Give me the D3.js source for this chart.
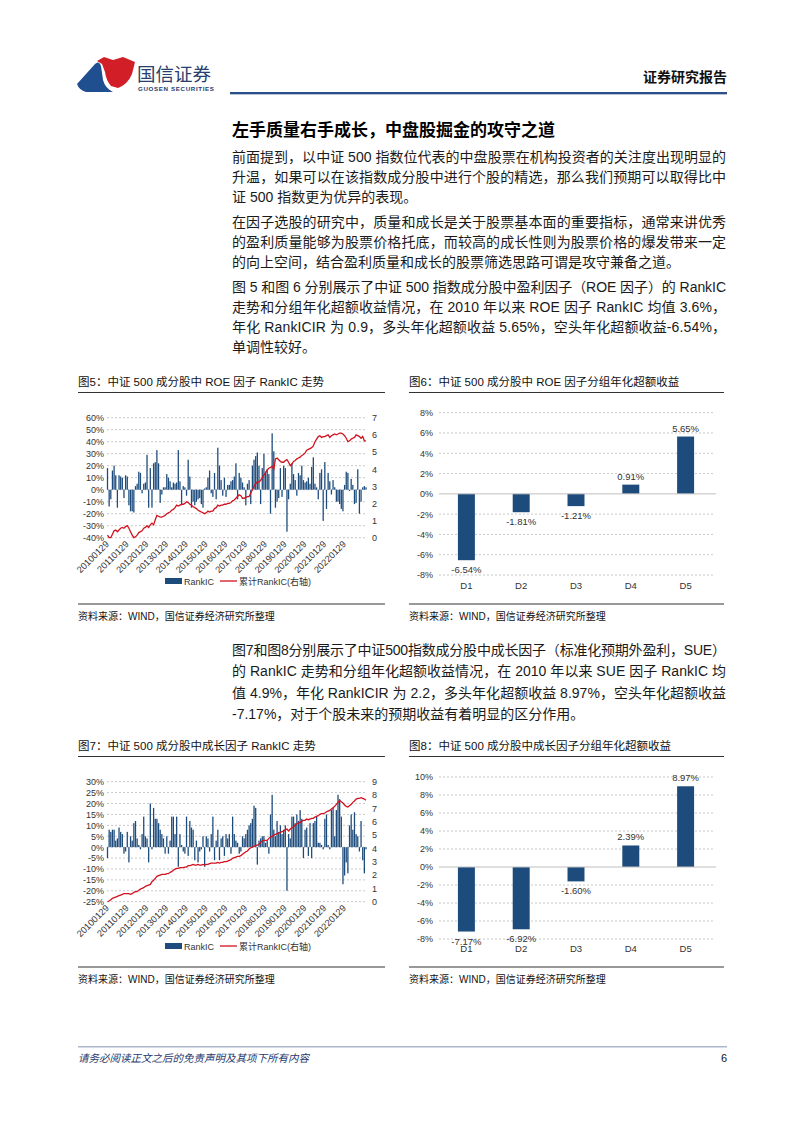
<!DOCTYPE html>
<html>
<head>
<meta charset="utf-8">
<script src="https://cdn.jsdelivr.net/npm/d3@7"></script>
<style>
  body { margin: 0; background: #fff; }
  svg { display: block; font-family: "Liberation Sans", "Noto Sans CJK SC", sans-serif; }
</style>
</head>
<body>
<svg id="page" width="802" height="1133"></svg>
<script>
// ---- data ----
var xTickLabels = ["20100129", "20110129", "20120129", "20130129", "20140129", "20150129", "20160129",
  "20170129", "20180129", "20190129", "20200129", "20210129", "20220129"];

// fig5: ROE factor monthly RankIC (%)
var roeRankIC = [
  18, -14, -8, 16, 20, 12, -15, 12, 11, 10, -7, 12,
  11, -13, -18, -18, -19, 3, 5, 15, 14, -3, 5, 6,
  29, -15, 18, -15, 22, 23, 33, 22, -11, -4, 2, 2,
  13, 10, 7, 2, 6, 5, 6, 33, 7, -13, 3, 2,
  -5, 25, 11, -15, -10, -13, -10, -8, -7, -12, -15, 1,
  2, 10, 16, -3, -6, 14, -8, 35, 20, 8, -5, 10,
  -6, 4, 4, 7, 8, 11, 22, -8, 14, 10, 6, 2,
  -13, 5, 8, -12, 20, 25, 28, 31, 20, -12, 18, 30,
  15, 17, 13, -20, 47, 32, -15, -10, -7, 18, -6, 20,
  18, -35, -8, 5, 22, 13, 8, -5, 14, 12, 20, 8,
  6, 7, 10, 5, 19, 27, 5, 2, -8, 14, 17, -26,
  23, -16, 14, 7, -4, 8, 2, -10, -10, -12, -16, -18,
  4, 15, 14, -1, 9, 4, -12, -11, 17, -20, -10, 2,
  3, 2
];
// fig5: cumulative RankIC (right axis)
var roeCum = [
  0.15, 0.0, 0.0, 0.2, 0.4, 0.45, 0.35, 0.45, 0.55, 0.6, 0.55, 0.65,
  0.7, 0.55, 0.35, 0.15, 0.0, 0.05, 0.15, 0.3, 0.35, 0.4, 0.55, 0.6,
  0.7, 0.6, 0.75, 0.85, 0.75, 1.05, 1.3, 1.25, 1.2, 1.2, 1.25, 1.3,
  1.4, 1.45, 1.5, 1.6, 1.65, 1.75, 1.9, 1.85, 1.9, 1.95, 1.95, 2.0,
  2.1, 2.05, 1.95, 1.9, 1.8, 1.75, 1.7, 1.6, 1.55, 1.5, 1.45, 1.4,
  1.45, 1.55, 1.5, 1.55, 1.55, 1.7, 1.75, 1.9, 1.85, 1.9, 1.9, 1.95,
  1.95, 2.0, 2.0, 2.05, 2.15, 2.2, 2.3, 2.4, 2.5, 2.45, 2.3, 2.3,
  2.35, 2.4, 2.4, 2.6, 2.8, 3.0, 3.15, 3.25, 3.25, 3.35, 3.5, 3.65,
  3.8, 3.95, 4.05, 4.1, 4.15, 4.0, 4.6, 4.65, 4.55, 4.45, 4.4, 4.4,
  4.5, 4.55, 4.4, 4.2, 4.3, 4.45, 4.5, 4.6, 4.65, 4.7, 4.8, 4.85,
  4.95, 5.1, 5.15, 5.2, 5.25, 5.35, 5.6, 5.75, 5.9, 5.95, 5.85, 5.9,
  5.9, 5.95, 6.0, 5.85, 5.95, 6.0, 6.05, 6.0, 6.05, 6.1, 6.1, 6.05,
  5.95, 5.8, 5.6, 5.65, 5.75, 5.8, 5.85, 6.0, 5.95, 5.9, 5.8, 5.9,
  5.65, 5.65
];

// fig7: growth (SUE) factor monthly RankIC (%)
var sueRankIC = [
  -5, 8, 7, 8, 8, 3, 4, 9, 7, 6, -3, -2,
  7, -7, 5, 3, 11, 12, 4, 1, -1, 6, 14, 5,
  4, -7, 20, -1, 18, 13, 13, 11, 8, 6, 4, -3,
  5, -3, 3, 14, 14, 6, 14, -9, 6, 1, -2, -3,
  14, -4, 12, 9, 8, -6, 3, -7, -2, -1, 5, -9,
  5, 4, -2, 6, 14, -6, 3, 8, -6, 4, 5, -4,
  6, 4, 6, -3, 14, 6, 3, 2, -3, -2, 5, 4,
  6, 8, 10, 11, 13, 19, 18, -8, 3, 4, 5, 5,
  2, 3, -3, 15, 24, 8, 5, 12, 7, 10, 6, 8,
  10, -20, 6, 4, 14, 14, 11, 15, 12, 17, 13, -5,
  8, 9, -4, 11, -5, 11, 12, 14, 2, 2, 1, -1,
  13, 15, 1, -1, 17, 18, 5, 17, 24, 22, 14, -17,
  -13, -7, -12, 10, 15, 8, 16, 6, 5, -2, 12, -6,
  -12, -1
];
var sueCum = [
  0, 0.05, 0.15, 0.25, 0.3, 0.35, 0.4, 0.45, 0.5, 0.55, 0.6, 0.6,
  0.6, 0.6, 0.55, 0.6, 0.7, 0.75, 0.75, 0.85, 0.95, 1.0, 1.05, 1.15,
  1.2, 1.25, 1.3, 1.5, 1.6, 1.75, 1.9, 1.95, 2.0, 2.05, 2.05, 2.05,
  2.1, 2.1, 2.2, 2.25, 2.35, 2.45, 2.5, 2.5, 2.55, 2.55, 2.55, 2.6,
  2.6, 2.7, 2.7, 2.75, 2.8, 2.75, 2.75, 2.8, 2.75, 2.75, 2.8, 2.75,
  2.8, 2.8, 2.85, 2.9, 2.9, 2.9, 2.9, 2.95, 2.9, 2.95, 2.95, 3.0,
  3.0, 3.05, 3.1, 3.15, 3.25, 3.3, 3.35, 3.4, 3.4, 3.45, 3.55, 3.65,
  3.75, 3.8, 3.95, 4.05, 4.1, 4.15, 4.2, 4.25, 4.3, 4.45, 4.55, 4.6,
  4.6, 4.6, 4.75, 4.85, 4.9, 5.0, 5.05, 5.1, 5.15, 5.2, 5.25, 5.3,
  5.4, 5.45, 5.3, 5.45, 5.55, 5.6, 5.75, 5.85, 5.9, 5.95, 6.05, 6.1,
  6.1, 6.2, 6.15, 6.2, 6.25, 6.25, 6.35, 6.4, 6.45, 6.55, 6.6, 6.6,
  6.65, 6.75, 6.8, 6.85, 6.95, 7.05, 7.15, 7.3, 7.45, 7.6, 7.5, 7.4,
  7.25, 7.15, 7.1, 7.2, 7.3, 7.45, 7.55, 7.7, 7.75, 7.75, 7.8, 7.75,
  7.7, 7.6
];

// quintile groups
var groups = ["D1", "D2", "D3", "D4", "D5"];
var roeGroupRet = [-6.54, -1.81, -1.21, 0.91, 5.65];
var sueGroupRet = [-7.17, -6.92, -1.60, 2.39, 8.97];

// ---- page ----
var BLUE = "#1d4c7c", RED = "#d2121f", GRID = "#c8c8c8", TXT = "#333";
var svg = d3.select("#page");

function pct(v) { return d3.format(".0%")(v).replace("\u2212", "-"); }

// header
var logo = svg.append("g");
logo.append("path").attr("d", "M77,84 L95,64 Q99,60 101,66 L103,80 Q105,88 113,92 L86,92 Q79,90 77,84 Z").attr("fill", "#1f4f8f");
logo.append("path").attr("d", "M97,61 L104,57 L113,60 L123,57 L135,62 L132,74 Q128,84 118,88 L111,86 Q106,80 105,72 L102,64 Z").attr("fill", "#d21f27");
svg.append("text").attr("x", 137).attr("y", 81).attr("font-size", 18.5).attr("fill", "#27406e")
  .attr("font-family", "Noto Sans CJK SC").text("国信证券");
svg.append("text").attr("x", 138).attr("y", 91).attr("font-size", 6.2).attr("fill", "#27406e")
  .attr("font-weight", "bold").attr("textLength", 76).text("GUOSEN SECURITIES");
svg.append("text").attr("x", 727).attr("y", 82).attr("text-anchor", "end").attr("font-size", 14)
  .attr("font-weight", "bold").attr("fill", "#111").text("证券研究报告");
svg.append("rect").attr("x", 230).attr("y", 92).attr("width", 497).attr("height", 2).attr("fill", "#2b4f8a");
svg.append("rect").attr("x", 230).attr("y", 94).attr("width", 497).attr("height", 1).attr("fill", "#b8c4d4");

// text block
svg.append("text").attr("x", 232).attr("y", 136).attr("font-size", 17).attr("font-weight", "bold")
  .attr("fill", "#000").text("左手质量右手成长，中盘股掘金的攻守之道");

var paras = [
  { y: 162, step: 20, lines: ["前面提到，以中证 500 指数位代表的中盘股票在机构投资者的关注度出现明显的",
    "升温，如果可以在该指数成分股中进行个股的精选，那么我们预期可以取得比中",
    "证 500 指数更为优异的表现。"] },
  { y: 227, step: 20, lines: ["在因子选股的研究中，质量和成长是关于股票基本面的重要指标，通常来讲优秀",
    "的盈利质量能够为股票价格托底，而较高的成长性则为股票价格的爆发带来一定",
    "的向上空间，结合盈利质量和成长的股票筛选思路可谓是攻守兼备之道。"] },
  { y: 292, step: 20, lines: ["图 5 和图 6 分别展示了中证 500 指数成分股中盈利因子（ROE 因子）的 RankIC",
    "走势和分组年化超额收益情况，在 2010 年以来 ROE 因子 RankIC 均值 3.6%，",
    "年化 RankICIR 为 0.9，多头年化超额收益 5.65%，空头年化超额收益-6.54%，",
    "单调性较好。"] },
  { y: 655, step: 21.3, lines: ["图7和图8分别展示了中证500指数成分股中成长因子（标准化预期外盈利，SUE）",
    "的 RankIC 走势和分组年化超额收益情况，在 2010 年以来 SUE 因子 RankIC 均",
    "值 4.9%，年化 RankICIR 为 2.2，多头年化超额收益 8.97%，空头年化超额收益",
    "-7.17%，对于个股未来的预期收益有着明显的区分作用。"] }
];
paras.forEach(function(p) {
  p.lines.forEach(function(line, i) {
    var t = svg.append("text").attr("x", 232).attr("y", p.y + i * p.step)
      .attr("font-size", 14).attr("fill", "#1a1a1a").text(line);
    if (i < p.lines.length - 1) t.attr("textLength", 494).attr("lengthAdjust", "spacing");
  });
});

// figure frame: title, rule, source
function frame(x0, x1, titleY, srcY, title) {
  svg.append("text").attr("x", x0).attr("y", titleY).attr("font-size", 11.5).attr("fill", "#111").text(title);
  svg.append("line").attr("x1", x0).attr("x2", x1).attr("y1", titleY + 6.5).attr("y2", titleY + 6.5)
    .attr("stroke", "#333").attr("stroke-width", 1);
  svg.append("line").attr("x1", x0).attr("x2", x1).attr("y1", srcY).attr("y2", srcY)
    .attr("stroke", "#333").attr("stroke-width", 1);
  svg.append("text").attr("x", x0).attr("y", srcY + 16).attr("font-size", 10).attr("fill", "#111")
    .text("资料来源：WIND，国信证券经济研究所整理");
}

// combo chart: monthly RankIC bars + cumulative line on right axis
function drawCombo(bars, cum, top, bottom, leftDomain, leftStep, rightMax, legendY) {
  var n = bars.length;
  var x = d3.scaleBand().domain(d3.range(n)).range([106.5, 367]).padding(0.22);
  var yL = d3.scaleLinear().domain(leftDomain).range([bottom, top]);
  var yR = d3.scaleLinear().domain([0, rightMax]).range([bottom, top]);
  var g = svg.append("g");

  var ticksL = d3.range(leftDomain[0], leftDomain[1] + leftStep / 2, leftStep);
  g.selectAll(".grid").data(ticksL).join("line")
    .attr("x1", 107).attr("x2", 367)
    .attr("y1", d => yL(d)).attr("y2", d => yL(d))
    .attr("stroke", GRID).attr("stroke-dasharray", "2,2");

  var axL = g.append("g").attr("transform", "translate(104,0)")
    .call(d3.axisLeft(yL).tickValues(ticksL).tickFormat(pct).tickSize(0).tickPadding(0));
  var axR = g.append("g").attr("transform", "translate(372,0)")
    .call(d3.axisRight(yR).ticks(rightMax).tickFormat(d3.format("d")).tickSize(0).tickPadding(0));
  [axL, axR].forEach(function(a) {
    a.select(".domain").remove();
    a.selectAll("text").attr("font-size", 9).attr("fill", TXT).attr("font-family", "Liberation Sans");
  });

  g.selectAll(".bar").data(bars).join("rect")
    .attr("x", (d, i) => x(i))
    .attr("width", x.bandwidth())
    .attr("y", d => yL(Math.max(0, d / 100)))
    .attr("height", d => Math.abs(yL(d / 100) - yL(0)))
    .attr("fill", BLUE);

  var line = d3.line().x((d, i) => x(i) + x.bandwidth() / 2).y(d => yR(d));
  g.append("path").datum(cum).attr("d", line).attr("fill", "none")
    .attr("stroke", RED).attr("stroke-width", 1.3);

  // rotated date labels every 12 months
  g.selectAll(".xl").data(xTickLabels).join("text")
    .attr("transform", (d, i) => "translate(" + (x(i * 12) + x.bandwidth() / 2 + 2) + "," + (bottom + 7) + ") rotate(-45)")
    .attr("text-anchor", "end").attr("font-size", 9.2).attr("fill", TXT).text(d => d);

  // legend
  g.append("rect").attr("x", 165).attr("y", legendY - 3).attr("width", 17).attr("height", 6).attr("fill", BLUE);
  g.append("text").attr("x", 184).attr("y", legendY + 3.5).attr("font-size", 9).attr("fill", TXT).text("RankIC");
  g.append("line").attr("x1", 220).attr("x2", 237).attr("y1", legendY).attr("y2", legendY)
    .attr("stroke", RED).attr("stroke-width", 1.3);
  g.append("text").attr("x", 239).attr("y", legendY + 3.5).attr("font-size", 9).attr("fill", TXT).text("累计RankIC(右轴)");
}

// grouped annual excess return bars
function drawGroups(vals, top, bottom, yMin, yMax, catY) {
  var x = d3.scaleBand().domain(groups).range([439, 713]).paddingInner(0.69).paddingOuter(0.345);
  var y = d3.scaleLinear().domain([yMin, yMax]).range([bottom, top]);
  var g = svg.append("g");
  var ticks = d3.range(yMin, yMax + 1, 2);

  g.selectAll(".grid").data(ticks.filter(d => d !== 0)).join("line")
    .attr("x1", 439).attr("x2", 713)
    .attr("y1", d => y(d)).attr("y2", d => y(d))
    .attr("stroke", GRID).attr("stroke-dasharray", "2,2");

  var ax = g.append("g").attr("transform", "translate(433,0)")
    .call(d3.axisLeft(y).tickValues(ticks).tickFormat(d => d + "%").tickSize(0).tickPadding(0));
  ax.select(".domain").remove();
  ax.selectAll("text").attr("font-size", 9).attr("fill", TXT).attr("font-family", "Liberation Sans");

  g.selectAll(".bar").data(vals).join("rect")
    .attr("x", (d, i) => x(groups[i]))
    .attr("width", x.bandwidth())
    .attr("y", d => y(Math.max(0, d)))
    .attr("height", d => Math.abs(y(d) - y(0)))
    .attr("fill", BLUE);

  g.append("line").attr("x1", 439).attr("x2", 716).attr("y1", y(0)).attr("y2", y(0))
    .attr("stroke", "#bfbfbf").attr("stroke-width", 1);

  g.selectAll(".lbl").data(vals).join("text")
    .attr("x", (d, i) => x(groups[i]) + x.bandwidth() / 2)
    .attr("y", d => d >= 0 ? y(d) - 5 : y(d) + 13)
    .attr("text-anchor", "middle").attr("font-size", 9.5).attr("fill", TXT)
    .text(d => d.toFixed(2) + "%");

  g.selectAll(".cat").data(groups).join("text")
    .attr("x", d => x(d) + x.bandwidth() / 2).attr("y", catY)
    .attr("text-anchor", "middle").attr("font-size", 9.5).attr("fill", TXT).text(d => d);
}

frame(78, 385, 386, 604, "图5：中证 500 成分股中 ROE 因子 RankIC 走势");
frame(409, 724, 386, 604, "图6：中证 500 成分股中 ROE 因子分组年化超额收益");
frame(78, 385, 750, 967, "图7：中证 500 成分股中成长因子 RankIC 走势");
frame(409, 724, 750, 967, "图8：中证 500 成分股中成长因子分组年化超额收益");

drawCombo(roeRankIC, roeCum, 417.7, 537.7, [-0.4, 0.6], 0.1, 7, 581);
drawGroups(roeGroupRet, 412.7, 575, -8, 8, 588.5);
drawCombo(sueRankIC, sueCum, 781.7, 901.7, [-0.25, 0.30], 0.05, 9, 946);
drawGroups(sueGroupRet, 777, 939, -8, 10, 951.5);

// footer
svg.append("rect").attr("x", 78).attr("y", 1046).attr("width", 649).attr("height", 1.5).attr("fill", "#a9b8cc");
svg.append("text").attr("x", 78).attr("y", 1062).attr("font-size", 10.5).attr("font-style", "italic")
  .attr("fill", "#1f3a6e").text("请务必阅读正文之后的免责声明及其项下所有内容");
svg.append("text").attr("x", 727).attr("y", 1062).attr("text-anchor", "end").attr("font-size", 11)
  .attr("fill", "#111").text("6");
</script>
</body>
</html>
